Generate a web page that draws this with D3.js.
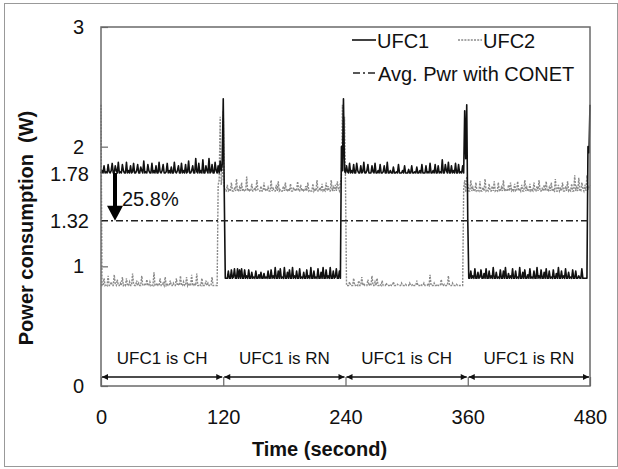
<!DOCTYPE html>
<html>
<head>
<meta charset="utf-8">
<script src="https://cdn.jsdelivr.net/npm/d3@7"></script>
<style>
  body { margin: 0; background: #fff; }
  text { font-family: "Liberation Sans", Arial, sans-serif; fill: #111; }
</style>
</head>
<body>
<svg id="chart" width="618" height="469"></svg>
<script>
// power samples, one per second, t = 0..480 s
var ufc1 = [
  1.78,1.80,1.78,1.84,1.78,1.79,1.78,1.85,1.79,1.78,
  1.80,1.86,1.78,1.78,1.84,1.80,1.78,1.87,1.78,1.79,
  1.78,1.85,1.80,1.78,1.78,1.87,1.78,1.80,1.78,1.84,
  1.78,1.79,1.86,1.78,1.78,1.80,1.85,1.78,1.78,1.83,
  1.80,1.78,1.88,1.78,1.79,1.78,1.85,1.80,1.78,1.78,
  1.86,1.78,1.80,1.78,1.84,1.78,1.78,1.87,1.79,1.78,
  1.80,1.85,1.78,1.78,1.79,1.86,1.78,1.80,1.78,1.83,
  1.78,1.78,1.87,1.79,1.78,1.80,1.84,1.78,1.78,1.86,
  1.78,1.80,1.78,1.85,1.78,1.79,1.88,1.78,1.78,1.80,
  1.84,1.78,1.78,1.90,1.79,1.78,1.86,1.78,1.80,1.78,
  1.89,1.78,1.78,1.84,1.80,1.78,1.90,1.78,1.79,1.85,
  1.78,1.78,1.87,1.80,1.78,1.84,1.78,1.88,1.80,1.85,
  2.40,1.60,0.90,0.90,0.90,0.96,0.90,0.90,0.97,0.90,
  0.91,0.98,0.90,0.90,0.98,0.90,0.97,0.90,0.98,0.90,
  0.90,0.97,0.90,0.92,0.90,0.97,0.90,0.90,0.95,0.90,
  0.91,0.90,0.96,0.90,0.90,0.93,0.90,0.95,0.90,0.90,
  0.94,0.90,0.91,0.90,0.96,0.90,0.90,0.97,0.90,0.92,
  0.90,0.99,0.90,0.90,0.96,0.90,0.98,0.90,0.91,0.90,
  0.99,0.90,0.90,0.95,0.90,0.97,0.90,0.90,0.99,0.90,
  0.92,0.90,0.96,0.90,0.90,0.98,0.90,0.91,0.90,0.95,
  0.90,0.90,0.97,0.90,0.92,0.90,0.99,0.90,0.90,0.96,
  0.90,0.91,0.90,0.98,0.90,0.90,0.95,0.90,0.99,0.90,
  0.90,0.97,0.90,0.92,0.90,0.99,0.90,0.90,0.96,0.90,
  0.91,0.98,0.90,0.90,0.96,0.90,2.00,1.80,2.40,1.80,
  1.78,1.84,1.79,1.78,1.86,1.78,1.80,1.78,1.85,1.78,
  1.78,1.86,1.80,1.78,1.78,1.84,1.78,1.79,1.87,1.78,
  1.78,1.80,1.85,1.78,1.78,1.78,1.84,1.79,1.78,1.86,
  1.78,1.78,1.80,1.78,1.85,1.78,1.78,1.79,1.84,1.78,
  1.78,1.87,1.78,1.78,1.80,1.78,1.78,1.83,1.78,1.78,
  1.79,1.78,1.85,1.78,1.78,1.78,1.80,1.78,1.84,1.78,
  1.78,1.78,1.81,1.78,1.78,1.84,1.78,1.78,1.79,1.78,
  1.83,1.78,1.78,1.80,1.78,1.85,1.78,1.78,1.78,1.84,
  1.78,1.79,1.78,1.86,1.78,1.78,1.80,1.78,1.85,1.78,
  1.78,1.84,1.78,1.79,1.78,1.89,1.78,1.78,1.85,1.80,
  1.78,1.87,1.78,1.78,1.84,1.78,1.80,1.78,1.86,1.78,
  1.78,1.85,1.78,1.79,1.78,1.84,1.78,2.30,1.90,2.35,
  1.40,0.90,0.90,0.96,0.90,0.92,0.90,0.98,0.90,0.90,
  0.95,0.90,0.91,0.97,0.90,0.90,0.94,0.90,0.98,0.90,
  0.90,0.96,0.90,0.92,0.90,0.99,0.90,0.90,0.95,0.90,
  0.91,0.90,0.97,0.90,0.90,0.96,0.90,0.99,0.90,0.90,
  0.94,0.90,0.92,0.90,0.98,0.90,0.90,0.96,0.90,0.91,
  0.90,0.99,0.90,0.90,0.95,0.90,0.97,0.90,0.90,0.93,
  0.90,0.98,0.90,0.91,0.90,0.96,0.90,0.90,0.99,0.90,
  0.92,0.90,0.97,0.90,0.90,0.95,0.90,0.98,0.90,0.90,
  0.96,0.90,0.91,0.90,0.97,0.90,0.90,0.94,0.90,0.99,
  0.90,0.90,0.96,0.90,0.92,0.90,0.98,0.90,0.90,0.95,
  0.90,0.91,0.90,0.97,0.90,0.90,0.96,0.90,0.90,0.92,
  0.90,0.90,0.98,0.90,0.90,0.90,0.90,0.90,2.00,1.95,
  2.35
];

var ufc2 = [
  2.35,0.84,0.84,0.90,0.84,0.85,0.84,0.92,0.84,0.84,
  0.87,0.84,0.84,0.93,0.85,0.84,0.89,0.84,0.84,0.86,
  0.84,0.91,0.84,0.85,0.84,0.90,0.84,0.84,0.87,0.84,
  0.84,0.94,0.85,0.84,0.84,0.88,0.84,0.86,0.84,0.84,
  0.92,0.84,0.84,0.85,0.84,0.89,0.84,0.84,0.87,0.84,
  0.85,0.84,0.95,0.84,0.84,0.86,0.84,0.84,0.90,0.84,
  0.84,0.86,0.84,0.91,0.84,0.85,0.84,0.84,0.88,0.84,
  0.84,0.86,0.84,0.84,0.90,0.84,0.85,0.84,0.92,0.84,
  0.84,0.87,0.84,0.84,0.91,0.84,0.86,0.84,0.84,0.93,
  0.84,0.84,0.86,0.84,0.94,0.84,0.84,0.85,0.84,0.90,
  0.84,0.84,0.84,0.88,0.84,0.86,0.84,0.84,0.84,0.91,
  0.84,0.84,0.84,0.84,0.84,1.68,1.72,2.25,1.68,1.76,
  2.30,1.66,1.63,1.63,1.68,1.63,1.64,1.63,1.70,1.63,
  1.63,1.65,1.63,1.73,1.63,1.63,1.66,1.63,1.70,1.63,
  1.64,1.63,1.63,1.75,1.63,1.65,1.63,1.63,1.69,1.63,
  1.63,1.66,1.63,1.72,1.64,1.63,1.63,1.67,1.63,1.63,
  1.70,1.63,1.64,1.63,1.66,1.63,1.63,1.72,1.63,1.65,
  1.63,1.63,1.68,1.63,1.71,1.63,1.64,1.63,1.63,1.67,
  1.63,1.70,1.63,1.63,1.65,1.63,1.69,1.63,1.63,1.66,
  1.63,1.64,1.63,1.71,1.63,1.63,1.68,1.63,1.65,1.63,
  1.63,1.67,1.63,1.70,1.63,1.64,1.63,1.63,1.69,1.63,
  1.65,1.63,1.72,1.63,1.63,1.66,1.63,1.69,1.63,1.64,
  1.63,1.70,1.63,1.67,1.63,1.63,1.72,1.63,1.66,1.63,
  1.68,1.63,1.71,1.65,1.63,1.70,1.74,2.35,1.90,2.25,
  1.70,0.84,0.84,0.84,0.87,0.84,0.84,0.84,0.90,0.84,
  0.84,0.85,0.84,0.88,0.84,0.84,0.91,0.84,0.86,0.84,
  0.84,0.84,0.89,0.84,0.85,0.84,0.92,0.84,0.84,0.87,
  0.84,0.90,0.84,0.84,0.85,0.84,0.88,0.84,0.84,0.84,
  0.86,0.84,0.84,0.84,0.85,0.84,0.84,0.87,0.84,0.84,
  0.84,0.85,0.84,0.84,0.84,0.86,0.84,0.84,0.84,0.85,
  0.84,0.84,0.84,0.86,0.84,0.84,0.85,0.84,0.84,0.84,
  0.88,0.84,0.84,0.84,0.85,0.84,0.84,0.86,0.84,0.84,
  0.84,0.85,0.84,0.93,0.84,0.84,0.84,0.86,0.84,0.84,
  0.85,0.84,0.84,0.84,0.89,0.84,0.84,0.85,0.84,0.84,
  0.84,0.92,0.84,0.84,0.84,0.86,0.84,0.84,0.84,0.85,
  0.84,0.84,0.84,0.84,0.84,0.84,1.65,1.72,1.62,1.75,
  1.68,1.63,1.63,1.72,1.63,1.66,1.63,1.63,1.70,1.63,
  1.64,1.63,1.71,1.63,1.63,1.66,1.63,1.73,1.63,1.64,
  1.63,1.69,1.63,1.63,1.67,1.63,1.71,1.63,1.64,1.63,
  1.70,1.63,1.63,1.66,1.63,1.72,1.63,1.65,1.63,1.63,
  1.68,1.63,1.70,1.63,1.64,1.63,1.69,1.63,1.63,1.71,
  1.63,1.65,1.63,1.68,1.63,1.63,1.72,1.63,1.66,1.63,
  1.63,1.69,1.63,1.64,1.63,1.70,1.63,1.63,1.67,1.63,
  1.72,1.63,1.63,1.65,1.63,1.68,1.63,1.71,1.63,1.63,
  1.66,1.63,1.70,1.63,1.64,1.63,1.73,1.63,1.63,1.68,
  1.63,1.65,1.63,1.70,1.63,1.63,1.67,1.63,1.71,1.63,
  1.64,1.63,1.69,1.63,1.63,1.76,1.63,1.66,1.63,1.74,
  1.63,1.63,1.70,1.65,1.63,1.68,1.63,1.76,1.64,1.66,
  1.68
];

var xTicks = [0, 120, 240, 360, 480];
var yTicks = [0, 1, 2, 3];
// the two marked levels; the avg line sits a bit above 1.32 in the figure
var refLevels = [1.78, 1.38];
var refLabels = ["1.78", "1.32"];
var avgPwr = 1.38;
var dropLabel = "25.8%";
var segmentLabels = ["UFC1 is CH", "UFC1 is RN", "UFC1 is CH", "UFC1 is RN"];
var legendNames = ["UFC1", "UFC2", "Avg. Pwr with CONET"];

var svg = d3.select("#chart");

var x = d3.scaleLinear().domain([0, 480]).range([101, 590]);
var y = d3.scaleLinear().domain([0, 3]).range([386, 27]);

// outer frame
svg.append("rect")
    .attr("x", 4.5).attr("y", 3.5)
    .attr("width", 613).attr("height", 463)
    .attr("fill", "none").attr("stroke", "#999").attr("stroke-width", 1);

var defs = svg.append("defs");
defs.append("marker")
    .attr("id", "ah")
    .attr("viewBox", "0 0 10 10")
    .attr("refX", 10).attr("refY", 5)
    .attr("markerWidth", 7).attr("markerHeight", 6)
    .attr("markerUnits", "userSpaceOnUse")
    .attr("orient", "auto-start-reverse")
  .append("path")
    .attr("d", "M0,0 L10,5 L0,10 Z")
    .attr("fill", "#111");

// axes
var yAxis = d3.axisLeft(y)
    .tickValues(yTicks)
    .tickFormat(d3.format("d"))
    .tickSizeInner(-7)
    .tickSizeOuter(0)
    .tickPadding(17);

var xAxis = d3.axisBottom(x)
    .tickValues(xTicks)
    .tickFormat(d3.format("d"))
    .tickSizeInner(-9)
    .tickSizeOuter(0)
    .tickPadding(24);

var gy = svg.append("g").attr("transform", "translate(" + x(0) + ",0)").call(yAxis);
var gx = svg.append("g").attr("transform", "translate(0," + y(0) + ")").call(xAxis);

[gx, gy].forEach(function(g){
  g.select(".domain").remove();
  g.selectAll(".tick line").attr("stroke", "#666").attr("stroke-width", 1.2);
  g.selectAll(".tick text")
      .style("font-size", "20px")
      .style("font-family", "'Liberation Sans', Arial, sans-serif")
      .attr("fill", "#111");
});

// extra level labels
svg.selectAll(".ref-label")
    .data(refLevels)
  .enter().append("text")
    .attr("class", "ref-label")
    .attr("x", 89)
    .attr("y", function(d){ return y(d); })
    .attr("dy", "0.38em")
    .attr("text-anchor", "end")
    .style("font-size", "20px")
    .text(function(d, i){ return refLabels[i]; });

// series
var line = d3.line()
    .x(function(d, i){ return x(i); })
    .y(function(d){ return y(d); });

svg.append("path")
    .datum(ufc2)
    .attr("d", line)
    .attr("fill", "none")
    .attr("stroke", "#8a8a8a")
    .attr("stroke-width", 1.4)
    .attr("stroke-dasharray", "2,1.2");

svg.append("path")
    .datum(ufc1)
    .attr("d", line)
    .attr("fill", "none")
    .attr("stroke", "#111")
    .attr("stroke-width", 1.6)
    .attr("stroke-linejoin", "round");

// average line
svg.append("line")
    .attr("x1", x(0)).attr("x2", x(480))
    .attr("y1", y(avgPwr)).attr("y2", y(avgPwr))
    .attr("stroke", "#222")
    .attr("stroke-width", 1.5)
    .attr("stroke-dasharray", "7,3,2,3");

// drop arrow 1.78 -> avg
var ax = 115;
svg.append("line")
    .attr("x1", ax).attr("x2", ax)
    .attr("y1", y(refLevels[0])).attr("y2", y(avgPwr) - 14)
    .attr("stroke", "#000").attr("stroke-width", 4);
svg.append("path")
    .attr("d", "M" + (ax - 8) + "," + (y(avgPwr) - 15) + " L" + (ax + 8) + "," + (y(avgPwr) - 15) + " L" + ax + "," + y(avgPwr) + " Z")
    .attr("fill", "#000");
svg.append("text")
    .attr("x", 122)
    .attr("y", y((refLevels[0] + avgPwr) / 2) + 2)
    .attr("dy", "0.35em")
    .style("font-size", "20px")
    .text(dropLabel);

// segment arrows and labels
var segs = segmentLabels.map(function(d, i){ return {label: d, t0: xTicks[i], t1: xTicks[i + 1]}; });

svg.selectAll(".seg-arrow")
    .data(segs)
  .enter().append("line")
    .attr("class", "seg-arrow")
    .attr("x1", function(d){ return x(d.t0) + 1; })
    .attr("x2", function(d){ return x(d.t1) - 1; })
    .attr("y1", 377).attr("y2", 377)
    .attr("stroke", "#111")
    .attr("stroke-width", 1.5)
    .attr("marker-start", "url(#ah)")
    .attr("marker-end", "url(#ah)");

svg.selectAll(".seg-label")
    .data(segs)
  .enter().append("text")
    .attr("class", "seg-label")
    .attr("x", function(d){ return (x(d.t0) + x(d.t1)) / 2; })
    .attr("y", 364)
    .attr("text-anchor", "middle")
    .style("font-size", "17px")
    .text(function(d){ return d.label; });

// plot box
svg.append("rect")
    .attr("x", x(0)).attr("y", y(3))
    .attr("width", x(480) - x(0)).attr("height", y(0) - y(3))
    .attr("fill", "none")
    .attr("stroke", "#6a6a6a")
    .attr("stroke-width", 1.5);

// legend
var lg = svg.append("g");
lg.append("line").attr("x1", 352).attr("x2", 376).attr("y1", 40).attr("y2", 40)
    .attr("stroke", "#111").attr("stroke-width", 1.6);
lg.append("text").attr("x", 377).attr("y", 48).style("font-size", "20px").text(legendNames[0]);
lg.append("line").attr("x1", 458).attr("x2", 482).attr("y1", 40).attr("y2", 40)
    .attr("stroke", "#8a8a8a").attr("stroke-width", 1.4).attr("stroke-dasharray", "2,1.2");
lg.append("text").attr("x", 483).attr("y", 48).style("font-size", "20px").text(legendNames[1]);
lg.append("line").attr("x1", 353).attr("x2", 377).attr("y1", 73).attr("y2", 73)
    .attr("stroke", "#222").attr("stroke-width", 1.5).attr("stroke-dasharray", "7,3,2,3");
lg.append("text").attr("x", 378).attr("y", 81).style("font-size", "20px").text(legendNames[2]);

// axis titles
svg.append("text")
    .attr("x", (x(0) + x(480)) / 2 - 26)
    .attr("y", 456)
    .attr("text-anchor", "middle")
    .style("font-size", "20px")
    .style("font-weight", "bold")
    .text("Time (second)");

svg.append("text")
    .attr("transform", "translate(33,228) rotate(-90)")
    .attr("text-anchor", "middle")
    .style("font-size", "20px")
    .style("font-weight", "bold")
    .style("white-space", "pre")
    .text("Power consumption  (W)");
</script>
</body>
</html>
